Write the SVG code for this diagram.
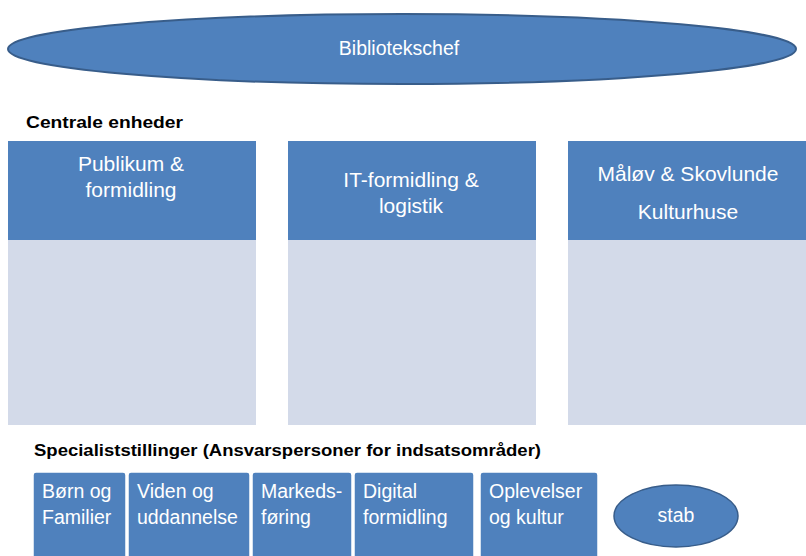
<svg xmlns="http://www.w3.org/2000/svg" width="806" height="556" viewBox="0 0 806 556">
<style>
.dark{fill:#4F81BD}
.light{fill:#D3DAE9}
.wt{fill:#FFFFFF;font-family:"Liberation Sans",Arial,sans-serif}
.hd{font-size:21px;text-anchor:middle}
.sm{font-size:19.5px}
.bl{fill:#000;font-family:"Liberation Sans",Arial,sans-serif;font-weight:bold;font-size:17px}
.sb{fill:#4F81BD;stroke:#FFFFFF;stroke-width:1.5}
</style>
<rect width="806" height="556" fill="#FFFFFF"/>
<g id="bibliotekschef">
<ellipse cx="402" cy="49" rx="394" ry="35" fill="#4F81BD" stroke="#385D8A" stroke-width="2"/>
<text class="wt" x="399" y="55" font-size="19.5" text-anchor="middle">Bibliotekschef</text>
</g>
<text class="bl" x="26" y="128" textLength="157" lengthAdjust="spacingAndGlyphs">Centrale enheder</text>
<g id="publikum">
<rect class="light" x="8" y="141" width="248" height="284"/>
<rect class="dark" x="8" y="141" width="248" height="99"/>
<text class="wt hd" x="131" y="171">Publikum &amp;</text>
<text class="wt hd" x="131" y="197">formidling</text>
</g>
<g id="it">
<rect class="light" x="288" y="141" width="248" height="284"/>
<rect class="dark" x="288" y="141" width="248" height="99"/>
<text class="wt hd" x="411" y="187">IT-formidling &amp;</text>
<text class="wt hd" x="411" y="213">logistik</text>
</g>
<g id="maaloev">
<rect class="light" x="568" y="141" width="240" height="284"/>
<rect class="dark" x="568" y="141" width="240" height="99"/>
<text class="wt hd" x="688" y="181">Måløv &amp; Skovlunde</text>
<text class="wt hd" x="688" y="219">Kulturhuse</text>
</g>
<text class="bl" x="34" y="456" textLength="507" lengthAdjust="spacingAndGlyphs">Specialiststillinger (Ansvarspersoner for indsatsområder)</text>
<g id="boern">
<rect class="sb" x="33" y="472" width="93" height="90" rx="3"/>
<text class="wt sm" x="42" y="498">Børn og</text>
<text class="wt sm" x="42" y="524">Familier</text>
</g>
<g id="viden">
<rect class="sb" x="128" y="472" width="122" height="90" rx="3"/>
<text class="wt sm" x="137" y="498">Viden og</text>
<text class="wt sm" x="137" y="524">uddannelse</text>
</g>
<g id="markeds">
<rect class="sb" x="252" y="472" width="100" height="90" rx="3"/>
<text class="wt sm" x="261" y="498">Markeds-</text>
<text class="wt sm" x="261" y="524">føring</text>
</g>
<g id="digital">
<rect class="sb" x="354" y="472" width="120" height="90" rx="3"/>
<text class="wt sm" x="363" y="498">Digital</text>
<text class="wt sm" x="363" y="524">formidling</text>
</g>
<g id="oplevelser">
<rect class="sb" x="480" y="472" width="118" height="90" rx="3"/>
<text class="wt sm" x="489" y="498">Oplevelser</text>
<text class="wt sm" x="489" y="524">og kultur</text>
</g>
<g id="stab">
<ellipse cx="676" cy="516" rx="62" ry="31" fill="#4F81BD" stroke="#385D8A" stroke-width="1.5"/>
<text class="wt sm" x="676" y="522" text-anchor="middle">stab</text>
</g>
<g id="connectors"></g>
</svg>
